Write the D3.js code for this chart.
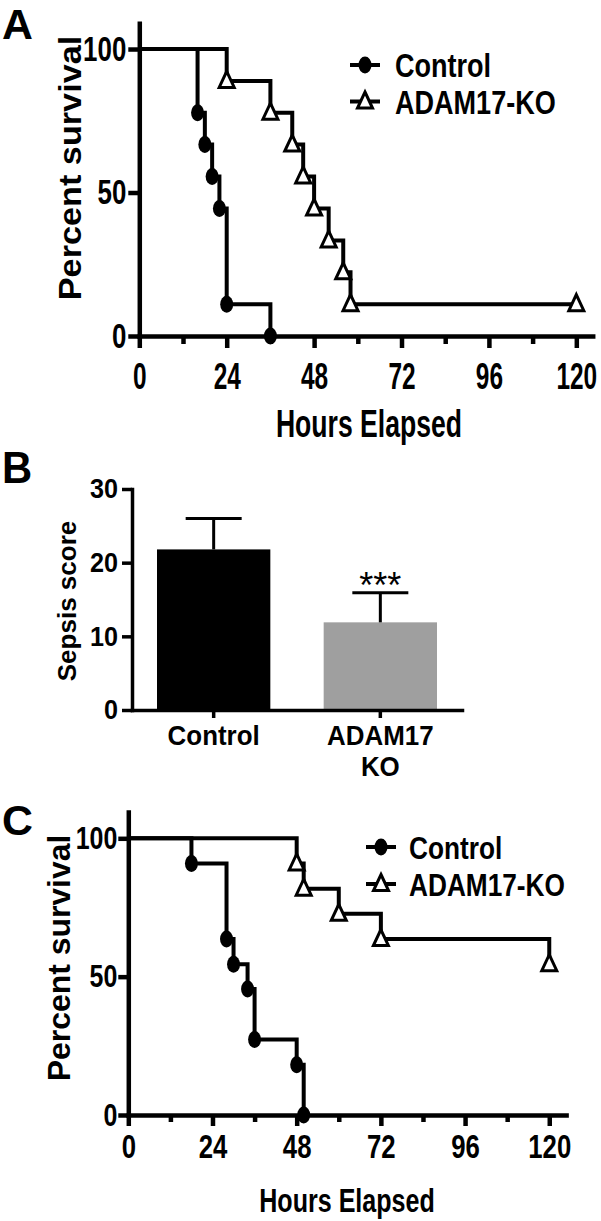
<!DOCTYPE html>
<html>
<head>
<meta charset="utf-8">
<script src="https://cdn.jsdelivr.net/npm/d3@7"></script>
<style>
  body { margin: 0; background: #fff; }
  text { font-family: "Liberation Sans", Arial, sans-serif; font-weight: bold; fill: #000; }
</style>
</head>
<body>
<script>
// ---- data ----
// panel A: survival (Kaplan-Meier steps, value after each event)
var hourTicks = [0, 24, 48, 72, 96, 120];
var hourMinorTicks = [12, 36, 60, 84, 108];
var survTicks = [0, 50, 100];
var seriesNames = ["Control", "ADAM17-KO"];

var aControlTime = [0, 16, 18, 20, 22, 24, 36];
var aControlSurv = [100, 77.8, 66.7, 55.6, 44.4, 11.1, 0];
var aKoTime = [0, 24, 36, 42, 45, 48, 52, 56, 58, 120];
var aKoSurv = [100, 88.9, 77.8, 66.7, 55.6, 44.4, 33.3, 22.2, 11.1, 11.1];

// panel B: sepsis score (mean + error)
var bCategories = ["Control", "ADAM17 KO"];
var bTickLines = [["Control"], ["ADAM17", "KO"]];
var bMeans = [21.8, 11.9];
var bErrors = [4.2, 4.0];
var bTicks = [0, 10, 20, 30];
var bColors = ["#000000", "#9f9f9f"];

// panel C: survival
var cControlTime = [0, 18, 28, 30, 34, 36, 48, 50];
var cControlSurv = [100, 90.9, 63.6, 54.5, 45.5, 27.3, 18.2, 0];
var cKoTime = [0, 48, 50, 60, 72, 120];
var cKoSurv = [100, 90.9, 81.8, 72.7, 63.6, 54.5];

var svg = d3.select("body").append("svg")
    .attr("width", 601)
    .attr("height", 1221);

// text helper: horizontal squeeze because the figure is a condensed bold face
function label(g, txt, x, y, size, sx, opts) {
    opts = opts || {};
    var tr = "translate(" + x + "," + y + ")" + (opts.rot ? " rotate(" + opts.rot + ")" : "") + " scale(" + sx + ",1)";
    return g.append("text")
        .attr("transform", tr)
        .attr("text-anchor", opts.anchor || "start")
        .attr("font-size", size)
        .style("font-weight", opts.weight || "bold")
        .text(txt);
}

function squeezeTicks(axisG, sx, size) {
    axisG.selectAll("text").each(function() {
        var t = d3.select(this);
        var x = +t.attr("x") || 0;
        t.attr("x", x / sx).attr("transform", "scale(" + sx + ",1)");
    });
    axisG.selectAll("text").attr("font-size", size).attr("fill", "#000");
}

function styleAxis(axisG, w) {
    axisG.selectAll("path.domain").attr("stroke", "#000").attr("stroke-width", w).attr("stroke-linecap", "square");
    axisG.selectAll("line").attr("stroke", "#000").attr("stroke-width", w);
}

function triangle(g, x, y) {
    g.append("path")
        .attr("d", "M" + x + "," + (y - 9.5) + "L" + (x + 7.5) + "," + (y + 6.5) + "L" + (x - 7.5) + "," + (y + 6.5) + "Z")
        .attr("fill", "#fff").attr("stroke", "#000").attr("stroke-width", 3).attr("stroke-linejoin", "miter");
}
function dot(g, x, y) {
    g.append("ellipse").attr("cx", x).attr("cy", y).attr("rx", 6.5).attr("ry", 8.5).attr("fill", "#000");
}

function drawSurvival(c) {
    var g = svg.append("g");
    var x = d3.scaleLinear().domain([0, c.xMax]).range(c.xRange);
    var y = d3.scaleLinear().domain([0, c.yMax]).range(c.yRange);

    // minor ticks first, then main axes
    var minor = g.append("g").attr("transform", "translate(0," + y(0) + ")")
        .call(d3.axisBottom(x).tickValues(hourMinorTicks).tickFormat("").tickSize(c.minorTick).tickSizeOuter(0));
    minor.select("path.domain").remove();
    styleAxis(minor, c.axisW);

    var xa = g.append("g").attr("transform", "translate(0," + y(0) + ")")
        .call(d3.axisBottom(x).tickValues(hourTicks).tickSize(c.majorTick).tickPadding(c.xPad).tickSizeOuter(0));
    styleAxis(xa, c.axisW);
    squeezeTicks(xa, c.xTickSx, c.xTickSize);

    var ya = g.append("g").attr("transform", "translate(" + x(0) + ",0)")
        .call(d3.axisLeft(y).tickValues(survTicks).tickSize(c.yTick).tickPadding(c.yPad).tickSizeOuter(0));
    styleAxis(ya, c.axisW);
    squeezeTicks(ya, c.yTickSx, c.yTickSize);

    var line = d3.line().x(function(d) { return x(d[0]); }).y(function(d) { return y(d[1]); }).curve(d3.curveStepAfter);
    c.series.forEach(function(s) {
        var pts = d3.zip(s.time, s.surv);
        g.append("path").attr("d", line(pts)).attr("fill", "none").attr("stroke", "#000").attr("stroke-width", 4);
        pts.slice(1).forEach(function(p) {
            if (s.marker === "dot") dot(g, x(p[0]), y(p[1]));
            else triangle(g, x(p[0]), y(p[1]));
        });
    });

    // legend
    c.series.forEach(function(s, i) {
        var ly = c.legendY[i];
        g.append("line").attr("x1", c.legendX - 15).attr("x2", c.legendX + 15).attr("y1", ly).attr("y2", ly)
            .attr("stroke", "#000").attr("stroke-width", 4);
        if (s.marker === "dot") dot(g, c.legendX, ly);
        else triangle(g, c.legendX, ly);
        label(g, seriesNames[i], c.legendTextX, ly + 12, c.legendSize, 0.82);
    });

    label(g, "Percent survival", c.yTitleX, c.yTitleY, c.yTitleSize, c.yTitleSx, { rot: -90, anchor: "middle" });
    label(g, "Hours Elapsed", c.xTitleX, c.xTitleY, c.xTitleSize, c.xTitleSx, { anchor: "middle" });
    label(g, c.letter, 2, c.letterY, 42, 1.02);
}

drawSurvival({
    letter: "A", letterY: 39,
    xMax: 124.5, xRange: [139.3, 592.7],
    yMax: 109, yRange: [336, 23.2],
    axisW: 4.5, majorTick: 12, minorTick: 8, yTick: 11, xPad: 15, yPad: 2,
    xTickSx: 0.66, xTickSize: 37, yTickSx: 0.74, yTickSize: 35,
    series: [
        { time: aControlTime, surv: aControlSurv, marker: "dot" },
        { time: aKoTime, surv: aKoSurv, marker: "tri" }
    ],
    legendX: 365, legendY: [65, 101.5], legendTextX: 395, legendSize: 33,
    yTitleX: 81, yTitleY: 168, yTitleSize: 32, yTitleSx: 1.07,
    xTitleX: 369, xTitleY: 437, xTitleSize: 38, xTitleSx: 0.70
});

drawSurvival({
    letter: "C", letterY: 835,
    xMax: 124.8, xRange: [128.3, 128.3 + 124.8 * 3.508],
    yMax: 109.5, yRange: [1115, 1115 - 109.5 * 2.767],
    axisW: 4.5, majorTick: 11, minorTick: 7, yTick: 10, xPad: 9, yPad: 1,
    xTickSx: 0.78, xTickSize: 33, yTickSx: 0.78, yTickSize: 32,
    series: [
        { time: cControlTime, surv: cControlSurv, marker: "dot" },
        { time: cKoTime, surv: cKoSurv, marker: "tri" }
    ],
    legendX: 381, legendY: [847, 884], legendTextX: 409, legendSize: 32,
    yTitleX: 70, yTitleY: 958, yTitleSize: 31, yTitleSx: 1.03,
    xTitleX: 347, xTitleY: 1212, xTitleSize: 33, xTitleSx: 0.76
});

// ---- panel B ----
(function() {
    var g = svg.append("g");
    var x = d3.scaleBand().domain(bCategories).range([132, 462]).paddingInner(0.32).paddingOuter(0.15);
    var y = d3.scaleLinear().domain([0, 30]).range([710, 489]);

    g.selectAll("rect.bar").data(bMeans).enter().append("rect")
        .attr("class", "bar")
        .attr("x", function(d, i) { return x(bCategories[i]); })
        .attr("width", x.bandwidth())
        .attr("y", function(d) { return y(d); })
        .attr("height", function(d) { return y(0) - y(d); })
        .attr("fill", function(d, i) { return bColors[i]; });

    bMeans.forEach(function(m, i) {
        var cx = x(bCategories[i]) + x.bandwidth() / 2;
        g.append("line").attr("x1", cx).attr("x2", cx).attr("y1", y(m)).attr("y2", y(m + bErrors[i]))
            .attr("stroke", "#000").attr("stroke-width", 3);
        g.append("line").attr("x1", cx - 28).attr("x2", cx + 28).attr("y1", y(m + bErrors[i])).attr("y2", y(m + bErrors[i]))
            .attr("stroke", "#000").attr("stroke-width", 3);
    });

    var xa = g.append("g").attr("transform", "translate(0,710)")
        .call(d3.axisBottom(x).tickFormat("").tickSize(8).tickSizeOuter(0));
    styleAxis(xa, 3.5);

    var ya = g.append("g").attr("transform", "translate(132,0)")
        .call(d3.axisLeft(y).tickValues(bTicks).tickSize(10).tickPadding(4).tickSizeOuter(0));
    styleAxis(ya, 3.5);
    squeezeTicks(ya, 0.9, 28);

    bTickLines.forEach(function(lines, i) {
        var cx = x(bCategories[i]) + x.bandwidth() / 2;
        lines.forEach(function(t, j) {
            label(g, t, cx, 745 + j * 31, 27, 0.96, { anchor: "middle" });
        });
    });

    var koX = x(bCategories[1]) + x.bandwidth() / 2;
    label(g, "***", koX, 598, 36, 1.0, { anchor: "middle", weight: "normal" });

    label(g, "Sepsis score", 76, 601, 26, 1.0, { rot: -90, anchor: "middle" });
    label(g, "B", 2, 483, 44, 0.95);
})();
</script>
</body>
</html>
